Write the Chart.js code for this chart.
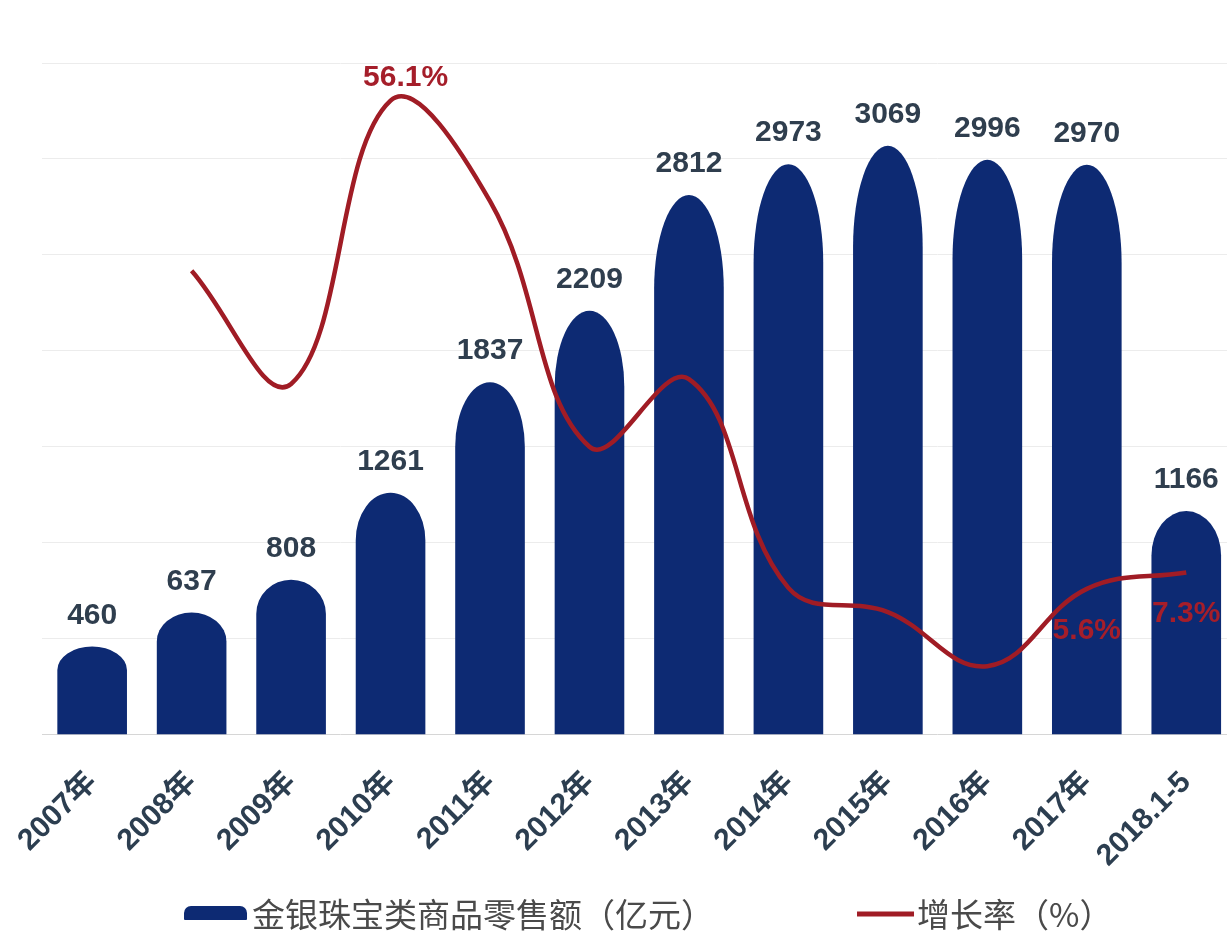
<!DOCTYPE html>
<html>
<head>
<meta charset="utf-8">
<script src="https://cdn.jsdelivr.net/npm/chart.js@4.4.1/dist/chart.umd.min.js"></script>
<style>
html,body{margin:0;padding:0;background:#fff;overflow:hidden;width:1227px;height:934px}
#wrap{position:absolute;left:0;top:0;width:1240px;height:934px}
</style>
</head>
<body>
<div id="wrap"><canvas id="c"></canvas></div>
<script>
const categories = ['2007年','2008年','2009年','2010年','2011年','2012年','2013年','2014年','2015年','2016年','2017年','2018.1-5'];
const salesValues = [460, 637, 808, 1261, 1837, 2209, 2812, 2973, 3069, 2996, 2970, 1166];
const growthRates = [null, 38.5, 26.8, 56.1, 45.7, 20.3, 27.3, 5.7, 3.2, -2.4, 5.6, 7.3];
const growthLabels = [null, null, null, '56.1%', null, null, null, null, null, null, '5.6%', '7.3%'];
const seriesNames = ['金银珠宝类商品零售额（亿元）', '增长率（%）'];

const BAR_COLOR = '#0d2a73';
const LINE_COLOR = '#a01c25';

const domeBars = {
  id: 'domeBars',
  beforeDatasetDraw(chart, args) {
    const meta = args.meta;
    if (meta.type !== 'bar') return;
    const ctx = chart.ctx;
    ctx.save();
    ctx.fillStyle = BAR_COLOR;
    meta.data.forEach(el => {
      const p = el.getProps(['x', 'y', 'base', 'width'], true);
      const h = p.base - p.y;
      const r = p.width / 2;
      const b = Math.min(h, 10 + 0.155 * h);
      ctx.beginPath();
      ctx.moveTo(p.x - r, p.base);
      ctx.lineTo(p.x - r, p.y + b);
      ctx.ellipse(p.x, p.y + b, r, b, 0, Math.PI, 2 * Math.PI);
      ctx.lineTo(p.x + r, p.base);
      ctx.closePath();
      ctx.fill();
    });
    ctx.restore();
    return false;
  }
};

const valueLabels = {
  id: 'valueLabels',
  afterDatasetsDraw(chart) {
    const ctx = chart.ctx;
    ctx.save();
    ctx.font = 'bold 30px "Liberation Sans", Arial, sans-serif';
    ctx.textAlign = 'center';
    ctx.textBaseline = 'alphabetic';
    ctx.fillStyle = '#2f3e4e';
    chart.getDatasetMeta(0).data.forEach((el, i) => {
      ctx.fillText(String(salesValues[i]), el.x, el.y - 23);
    });
    const peak = Math.max(...growthRates.filter(v => v !== null));
    ctx.fillStyle = '#a51e2a';
    chart.getDatasetMeta(1).data.forEach((el, i) => {
      const t = growthLabels[i];
      if (!t) return;
      if (growthRates[i] === peak) ctx.fillText(t, el.x + 15, el.y - 15);
      else ctx.fillText(t, el.x, el.y + 50);
    });
    ctx.restore();
  }
};

const bottomLegend = {
  id: 'bottomLegend',
  afterDraw(chart) {
    const ctx = chart.ctx;
    const ds = chart.data.datasets;
    ctx.save();
    ctx.font = '33px "Noto Sans CJK SC", sans-serif';
    ctx.textBaseline = 'middle';
    ctx.textAlign = 'left';
    const icon0 = 63, icon1 = 57, gap0 = 5, gap1 = 3, itemGap = 143;
    const w0 = ctx.measureText(ds[0].label).width;
    const w1 = ctx.measureText(ds[1].label).width;
    const total = icon0 + gap0 + w0 + itemGap + icon1 + gap1 + w1;
    const center = (chart.chartArea.left + chart.chartArea.right) / 2 + 9;
    const y = chart.height - 20;
    let x = center - total / 2;
    ctx.fillStyle = ds[0].backgroundColor;
    ctx.beginPath();
    ctx.roundRect(x, y - 8, icon0, 14, [7, 7, 1, 1]);
    ctx.fill();
    x += icon0 + gap0;
    ctx.fillStyle = '#4a4a4a';
    ctx.fillText(ds[0].label, x, y);
    x += w0 + itemGap;
    ctx.strokeStyle = ds[1].borderColor;
    ctx.lineWidth = 5;
    ctx.beginPath();
    ctx.moveTo(x, y);
    ctx.lineTo(x + icon1, y);
    ctx.stroke();
    x += icon1 + gap1;
    ctx.fillText(ds[1].label, x, y);
    ctx.restore();
  }
};

new Chart(document.getElementById('c'), {
  data: {
    labels: categories,
    datasets: [
      {
        type: 'bar', label: seriesNames[0], data: salesValues,
        backgroundColor: BAR_COLOR, yAxisID: 'y', order: 1,
        categoryPercentage: 1, barPercentage: 0.7
      },
      {
        type: 'line', label: seriesNames[1], data: growthRates,
        borderColor: LINE_COLOR, backgroundColor: LINE_COLOR, borderWidth: 4.5,
        pointRadius: 0, tension: 0.4, yAxisID: 'y1', order: 0, fill: false
      }
    ]
  },
  options: {
    responsive: true, maintainAspectRatio: false, animation: false,
    layout: { padding: { left: 42, right: 4, top: 63, bottom: 38 } },
    plugins: { legend: { display: false }, tooltip: { enabled: false } },
    scales: {
      x: {
        grid: { display: false }, border: { display: false },
        ticks: {
          autoSkip: false, maxRotation: 45, minRotation: 45, padding: 22,
          color: '#2c3e50',
          font: { family: '"Liberation Sans", "Noto Sans CJK SC", sans-serif', size: 30, weight: 'bold' }
        }
      },
      y: {
        min: 0, max: 3500,
        ticks: { display: false, stepSize: 500 },
        grid: { drawTicks: false, color: c => c.tick.value === 0 ? '#d6d6d6' : '#ececec' },
        border: { display: false }
      },
      y1: { display: false, position: 'right', min: -9.5, max: 60 }
    }
  },
  plugins: [domeBars, valueLabels, bottomLegend]
});
</script>
</body>
</html>
